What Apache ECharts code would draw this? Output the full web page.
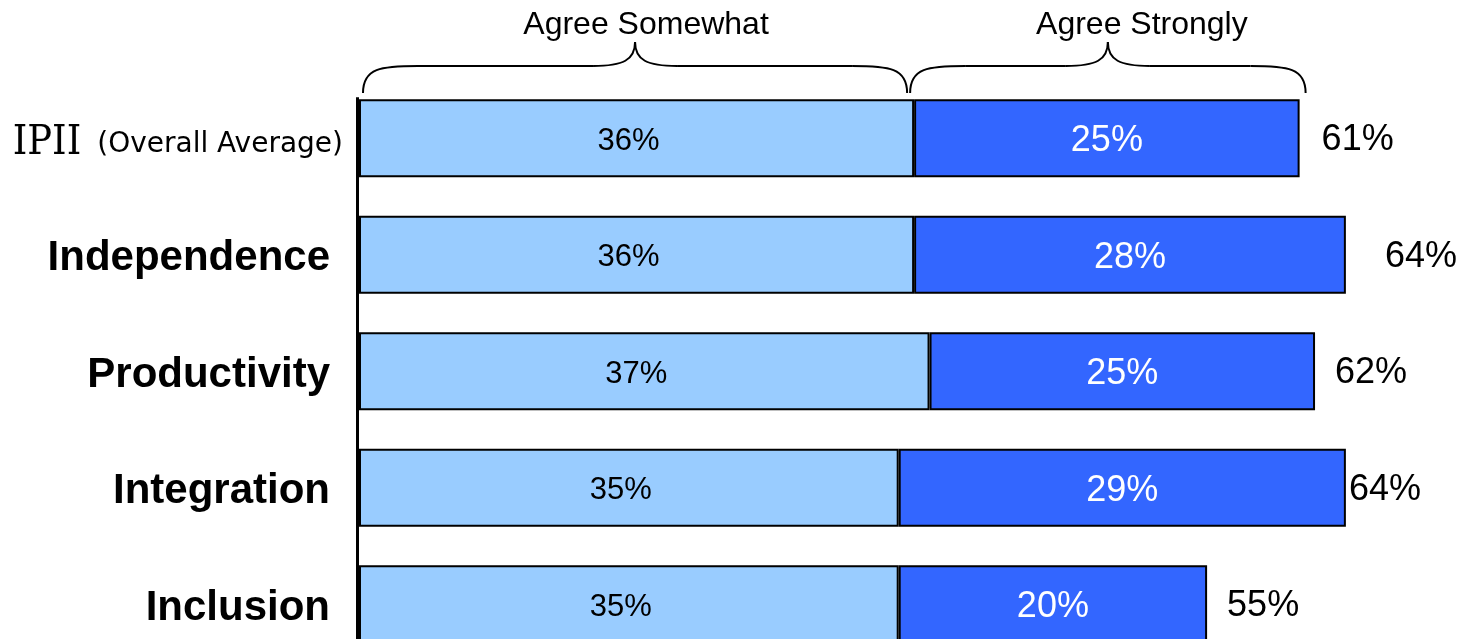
<!DOCTYPE html>
<html>
<head>
<meta charset="utf-8">
<script src="https://cdn.jsdelivr.net/npm/echarts@6/dist/echarts.min.js"></script>
<style>
html,body{margin:0;padding:0;background:#fff;overflow:hidden;}
#chart{width:1461px;height:700px;}
</style>
</head>
<body>
<div id="chart"></div>
<script>
const categories = ['IPII (Overall Average)', 'Independence', 'Productivity', 'Integration', 'Inclusion'];
const agreeSomewhat = [36, 36, 37, 35, 35];
const agreeStrongly = [25, 28, 25, 29, 20];
const totals = [61, 64, 62, 64, 55];
const groupLabels = ['Agree Somewhat', 'Agree Strongly'];

const chart = echarts.init(document.getElementById('chart'), null, {renderer: 'canvas'});
const totalGaps = [22, 39, 20, 3, 20];
const BAR_W = 78;

const option = {
  animation: false,
  backgroundColor: '#ffffff',
  grid: {left: 359, right: 22.6, top: 80, height: 582.5, containLabel: false},
  xAxis: {type: 'value', min: 0, max: 70, show: false, splitLine: {show: false}},
  yAxis: {
    type: 'category',
    data: categories,
    inverse: true,
    axisTick: {show: false},
    axisLine: {show: false},
    axisLabel: {
      margin: 16,
      color: '#000',
      formatter: function (v, i) {
        if (i === 0) return '{ip|IPII}{ov|(Overall Average)}';
        return '{b|' + v + '}';
      },
      rich: {
        ip: {fontFamily: 'DejaVu Serif Condensed, DejaVu Serif', fontSize: 41, fontWeight: 'normal', color: '#000', padding: [10, 0, 0, 0]},
        ov: {fontFamily: 'DejaVu Sans', fontSize: 28, fontWeight: 'normal', color: '#000', padding: [12, 0, 0, 16]},
        b: {fontFamily: 'Liberation Sans', fontSize: 42, fontWeight: 'bold', color: '#000', padding: [8, 13, 0, 0]}
      }
    }
  },
  series: [
    {
      name: groupLabels[0],
      type: 'bar',
      stack: 'agree',
      barWidth: BAR_W,
      data: agreeSomewhat,
      itemStyle: {color: '#99CCFF', borderColor: '#000', borderWidth: 2},
      label: {show: true, position: 'inside', formatter: '{c}%', fontFamily: 'Liberation Sans', fontSize: 31, color: '#000', offset: [-8, 3]}
    },
    {
      name: groupLabels[1],
      type: 'bar',
      stack: 'agree',
      barWidth: BAR_W,
      data: agreeStrongly,
      itemStyle: {color: '#3366FF', borderColor: '#000', borderWidth: 2},
      label: {show: true, position: 'inside', formatter: '{c}%', fontFamily: 'Liberation Sans', fontSize: 36, color: '#fff', offset: [0, 3]}
    },
    {
      name: 'Total',
      type: 'scatter',
      symbolSize: 0,
      itemStyle: {opacity: 1},
      data: totals.map(function (t, i) {
        return {value: [t, i], label: {distance: totalGaps[i]}};
      }),
      label: {show: true, position: 'right', formatter: function (p) { return p.value[0] + '%'; },
        fontFamily: 'Liberation Sans', fontSize: 36, color: '#000', offset: [0, 2]}
    }
  ]
};
chart.setOption(option);

function px(v) { return chart.convertToPixel({xAxisIndex: 0}, v); }
function braceParts(x1, x2, m) {
  const yEnd = 93, yLine = 66, yTip = 42;
  const s = {stroke: '#000', lineWidth: 2, fill: null};
  return [
    {type: 'bezierCurve', shape: {x1: x1, y1: yEnd, cpx1: x1, cpy1: yLine + 2, cpx2: x1 + 18, cpy2: yLine, x2: x1 + 55, y2: yLine}, style: s},
    {type: 'line', shape: {x1: x1 + 55, y1: yLine, x2: m - 42, y2: yLine}, style: s},
    {type: 'bezierCurve', shape: {x1: m - 42, y1: yLine, cpx1: m - 12, cpy1: yLine, cpx2: m, cpy2: yLine - 6, x2: m, y2: yTip}, style: s},
    {type: 'bezierCurve', shape: {x1: m, y1: yTip, cpx1: m, cpy1: yLine - 6, cpx2: m + 12, cpy2: yLine, x2: m + 42, y2: yLine}, style: s},
    {type: 'line', shape: {x1: m + 42, y1: yLine, x2: x2 - 55, y2: yLine}, style: s},
    {type: 'bezierCurve', shape: {x1: x2 - 55, y1: yLine, cpx1: x2 - 18, cpy1: yLine, cpx2: x2, cpy2: yLine + 2, x2: x2, y2: yEnd}, style: s}
  ];
}
const p0 = px(0), p1 = px(agreeSomewhat[0]), p2 = px(totals[0]);
const yTop = chart.convertToPixel({yAxisIndex: 0}, 0) - BAR_W / 2 - 2;
const b1x1 = p0 + 4, b1x2 = p1 - 7, b1m = (b1x1 + b1x2) / 2;
const b2x1 = p1 - 4, b2x2 = p2 + 6, b2m = (b2x1 + b2x2) / 2;
const g = [].concat(
  braceParts(b1x1, b1x2, b1m),
  braceParts(b2x1, b2x2, b2m),
  [
    {type: 'line', z: 10, shape: {x1: p0 - 1.5, y1: yTop, x2: p0 - 1.5, y2: 700}, style: {stroke: '#000', lineWidth: 3}},
    {type: 'text', x: b1m + 11, y: 25, style: {text: groupLabels[0], align: 'center', verticalAlign: 'middle', font: '32px "Liberation Sans", Arial, sans-serif', fill: '#000'}},
    {type: 'text', x: b2m + 34, y: 25, style: {text: groupLabels[1], align: 'center', verticalAlign: 'middle', font: '32px "Liberation Sans", Arial, sans-serif', fill: '#000'}}
  ]
);
chart.setOption({graphic: g});
</script>
</body>
</html>
